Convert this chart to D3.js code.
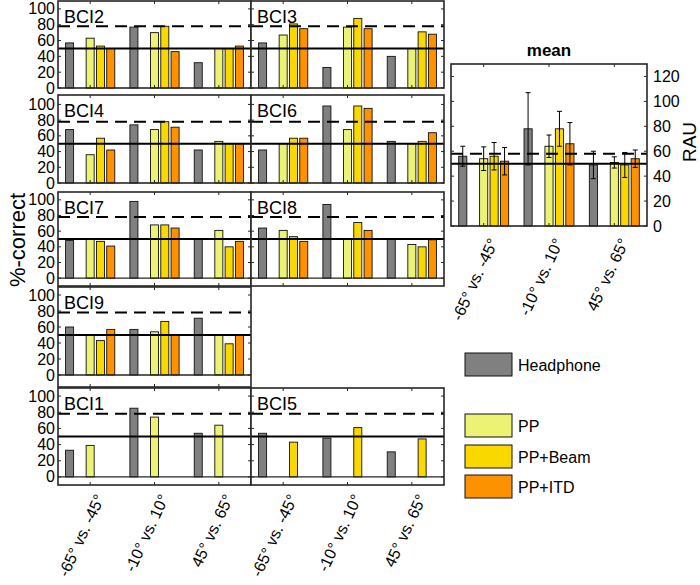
<!DOCTYPE html>
<html><head><meta charset="utf-8">
<script src="https://cdn.jsdelivr.net/npm/d3@7"></script>
<style>body{margin:0;background:#fff}</style>
</head><body>
<svg id="chart" width="700" height="585"></svg>
<script>
// ---------------- data ----------------
const categories = ["-65° vs. -45°", "-10° vs. 10°", "45° vs. 65°"];
const seriesNames = ["Headphone", "PP", "PP+Beam", "PP+ITD"];
const seriesColors = ["#808080", "#ecf274", "#f9d800", "#fd9200"];
const panelNames = ["BCI2", "BCI3", "BCI4", "BCI6", "BCI7", "BCI8", "BCI9", "BCI1", "BCI5"];
const headphone = [[57,77,32],[57,26,40],[68,74,42],[42,98,53],[48,98,50],[64,94,50],[60,57,71],[33,85,54],[54,48,31]];
const pp        = [[63,70,50],[67,77,50],[36,68,53],[50,68,50],[50,68,61],[61,50,43],[50,54,50],[39,74,64],[null,null,null]];
const ppBeam    = [[53,78,50],[81,88,71],[57,78,50],[57,98,53],[47,68,40],[53,71,40],[43,67,39],[null,null,null],[43,61,47]];
const ppItd     = [[50,46,53],[75,75,68],[42,71,50],[57,95,64],[41,64,47],[47,61,49],[57,50,50],[null,null,null],[null,null,null]];
const meanHeadphone = [56, 78, 49];
const meanPP        = [54, 64, 51];
const meanBeam      = [56, 78, 49];
const meanItd       = [52, 66, 54];
const errHeadphone  = [8, 29, 11];
const errPP         = [9.5, 9, 4.5];
const errBeam       = [11, 14, 10];
const errItd        = [11, 17, 7];
const yTicks = [0, 20, 40, 60, 80, 100];
const meanYTicks = [0, 20, 40, 60, 80, 100, 120];
const chanceLevel = 50;
const thresholdPct = 78;
const thresholdRau = 58;

// ---------------- layout ----------------
const svg = d3.select("#chart");
const FONT = "'Liberation Sans', Arial, Helvetica, sans-serif";
const AX = "#262626";
const cols = [{x0: 58, x1: 251}, {x0: 251, x1: 444}];
const rows = [
  {top: 1,   bottom: 88,  ymin: 0,   ymax: 110},
  {top: 95,  bottom: 183, ymin: 0,   ymax: 112},
  {top: 192, bottom: 286, ymin: -10, ymax: 110},
  {top: 287, bottom: 387, ymin: -15, ymax: 110},
  {top: 388, bottom: 485, ymin: -10, ymax: 110}
];
const placement = [[0,0],[0,1],[1,0],[1,1],[2,0],[2,1],[3,0],[4,0],[4,1]];
const slotOf = [0, 2, 3, 4]; // headphone, (gap), PP, Beam, ITD
const allSeries = [headphone, pp, ppBeam, ppItd];

function drawBars(g, x, y, valuesBySeries, inner) {
  valuesBySeries.forEach((vals, s) => {
    const data = vals.map((v, i) => ({v, c: categories[i]})).filter(d => d.v != null);
    g.selectAll(null).data(data).enter().append("rect")
      .attr("x", d => x(d.c) + inner(slotOf[s]) + (inner.bandwidth() - inner.bandwidth() * 0.78) / 2)
      .attr("width", inner.bandwidth() * 0.78)
      .attr("y", d => y(d.v))
      .attr("height", d => y(0) - y(d.v))
      .attr("fill", seriesColors[s])
      .attr("stroke", "#111").attr("stroke-width", 0.9);
  });
}

function hline(g, x0, x1, yv, dashed) {
  g.append("line").attr("x1", x0).attr("x2", x1).attr("y1", yv).attr("y2", yv)
    .attr("stroke", "#000").attr("stroke-width", 2)
    .attr("stroke-dasharray", dashed ? "12,7" : null);
}

function frame(g, x0, x1, y0, y1, x, y, ticksY, xcats) {
  ticksY.forEach(t => {
    const yy = y(t);
    g.append("line").attr("x1", x0).attr("x2", x0 + 3).attr("y1", yy).attr("y2", yy).attr("stroke", AX).attr("stroke-width", 1);
    g.append("line").attr("x1", x1).attr("x2", x1 - 3).attr("y1", yy).attr("y2", yy).attr("stroke", AX).attr("stroke-width", 1);
  });
  xcats.forEach(c => {
    const xx = x(c) + x.bandwidth() / 2;
    g.append("line").attr("x1", xx).attr("x2", xx).attr("y1", y0).attr("y2", y0 + 3).attr("stroke", AX).attr("stroke-width", 1);
    g.append("line").attr("x1", xx).attr("x2", xx).attr("y1", y1).attr("y2", y1 - 3).attr("stroke", AX).attr("stroke-width", 1);
  });
  g.append("rect").attr("x", x0).attr("y", y0).attr("width", x1 - x0).attr("height", y1 - y0)
    .attr("fill", "none").attr("stroke", AX).attr("stroke-width", 1.6);
}

function xLabels(g, x, yTop) {
  categories.forEach(c => {
    const xx = x(c) + x.bandwidth() / 2;
    g.append("text").attr("transform", `translate(${xx + 11},${yTop + 11}) rotate(-65)`)
      .attr("text-anchor", "end").attr("dominant-baseline", "middle")
      .attr("font-family", FONT).attr("font-size", 16).attr("fill", "#000").text(c);
  });
}

panelNames.forEach((name, p) => {
  const [r, cI] = placement[p];
  const R = rows[r], C = cols[cI];
  const g = svg.append("g");
  const x = d3.scaleBand().domain(categories).range([C.x0, C.x1]).padding(0);
  const inner = d3.scaleBand().domain([0,1,2,3,4]).range([x.bandwidth() * 0.1, x.bandwidth() * 0.9]).padding(0);
  const y = d3.scaleLinear().domain([R.ymin, R.ymax]).range([R.bottom, R.top]);
  g.append("rect").attr("x", C.x0).attr("y", R.top).attr("width", C.x1 - C.x0).attr("height", R.bottom - R.top).attr("fill", "#fff");
  drawBars(g, x, y, allSeries.map(s => s[p]), inner);
  hline(g, C.x0, C.x1, y(chanceLevel), false);
  hline(g, C.x0, C.x1, y(thresholdPct), true);
  if (R.ymin < 0) {
    g.append("line").attr("x1", C.x0).attr("x2", C.x1).attr("y1", y(0)).attr("y2", y(0)).attr("stroke", AX).attr("stroke-width", 1.3);
  }
  frame(g, C.x0, C.x1, R.top, R.bottom, x, y, yTicks, categories);
  g.append("text").attr("x", C.x0 + 6).attr("y", R.top + 22).attr("font-family", FONT).attr("font-size", 18).attr("fill", "#000").text(name);
  if (cI === 0) {
    yTicks.forEach(t => {
      g.append("text").attr("x", C.x0 - 3).attr("y", y(t)).attr("text-anchor", "end").attr("dominant-baseline", "central")
        .attr("font-family", FONT).attr("font-size", 16).attr("fill", "#000").text(t);
    });
  }
  if (r === 4) xLabels(g, x, R.bottom);
});

// y label
svg.append("text").attr("transform", "translate(17,240) rotate(-90)").attr("text-anchor", "middle").attr("dominant-baseline", "central")
  .attr("font-family", FONT).attr("font-size", 22).attr("fill", "#000").text("%-correct");

// ---------------- mean panel ----------------
{
  const x0 = 451, x1 = 647, y0 = 64, y1 = 226;
  const g = svg.append("g");
  const x = d3.scaleBand().domain(categories).range([x0, x1]).padding(0);
  const inner = d3.scaleBand().domain([0,1,2,3,4]).range([x.bandwidth() * 0.1, x.bandwidth() * 0.9]).padding(0);
  const y = d3.scaleLinear().domain([0, 130]).range([y1, y0]);
  const means = [meanHeadphone, meanPP, meanBeam, meanItd];
  const errs = [errHeadphone, errPP, errBeam, errItd];
  drawBars(g, x, y, means, inner);
  hline(g, x0, x1, y(chanceLevel), false);
  hline(g, x0, x1, y(thresholdRau), true);
  means.forEach((vals, s) => {
    vals.forEach((v, i) => {
      const cx = x(categories[i]) + inner(slotOf[s]) + inner.bandwidth() / 2;
      const e = errs[s][i];
      g.append("line").attr("x1", cx).attr("x2", cx).attr("y1", y(v - e)).attr("y2", y(v + e)).attr("stroke", "#000").attr("stroke-width", 1);
      [v - e, v + e].forEach(w => g.append("line").attr("x1", cx - 2.5).attr("x2", cx + 2.5).attr("y1", y(w)).attr("y2", y(w)).attr("stroke", "#000").attr("stroke-width", 1));
    });
  });
  frame(g, x0, x1, y0, y1, x, y, meanYTicks, categories);
  meanYTicks.forEach(t => {
    g.append("text").attr("x", x1 + 6).attr("y", y(t)).attr("text-anchor", "start").attr("dominant-baseline", "central")
      .attr("font-family", FONT).attr("font-size", 16).attr("fill", "#000").text(t);
  });
  g.append("text").attr("x", (x0 + x1) / 2).attr("y", y0 - 8).attr("text-anchor", "middle")
    .attr("font-family", FONT).attr("font-size", 17).attr("font-weight", "bold").attr("fill", "#000").text("mean");
  g.append("text").attr("transform", `translate(689,142) rotate(-90)`).attr("text-anchor", "middle").attr("dominant-baseline", "central")
    .attr("font-family", FONT).attr("font-size", 19).attr("fill", "#000").text("RAU");
  xLabels(g, x, y1 + 3);
}

// ---------------- legend ----------------
{
  const items = [
    {s: 0, y: 353},
    {s: 1, y: 414},
    {s: 2, y: 445},
    {s: 3, y: 475}
  ];
  const lg = svg.append("g");
  items.forEach(it => {
    lg.append("rect").attr("x", 465).attr("y", it.y).attr("width", 47).attr("height", 23)
      .attr("fill", seriesColors[it.s]).attr("stroke", "#111").attr("stroke-width", 1);
    lg.append("text").attr("x", 518).attr("y", it.y + 12).attr("dominant-baseline", "central")
      .attr("font-family", FONT).attr("font-size", 16).attr("fill", "#000").text(seriesNames[it.s]);
  });
}
</script>
</body></html>
